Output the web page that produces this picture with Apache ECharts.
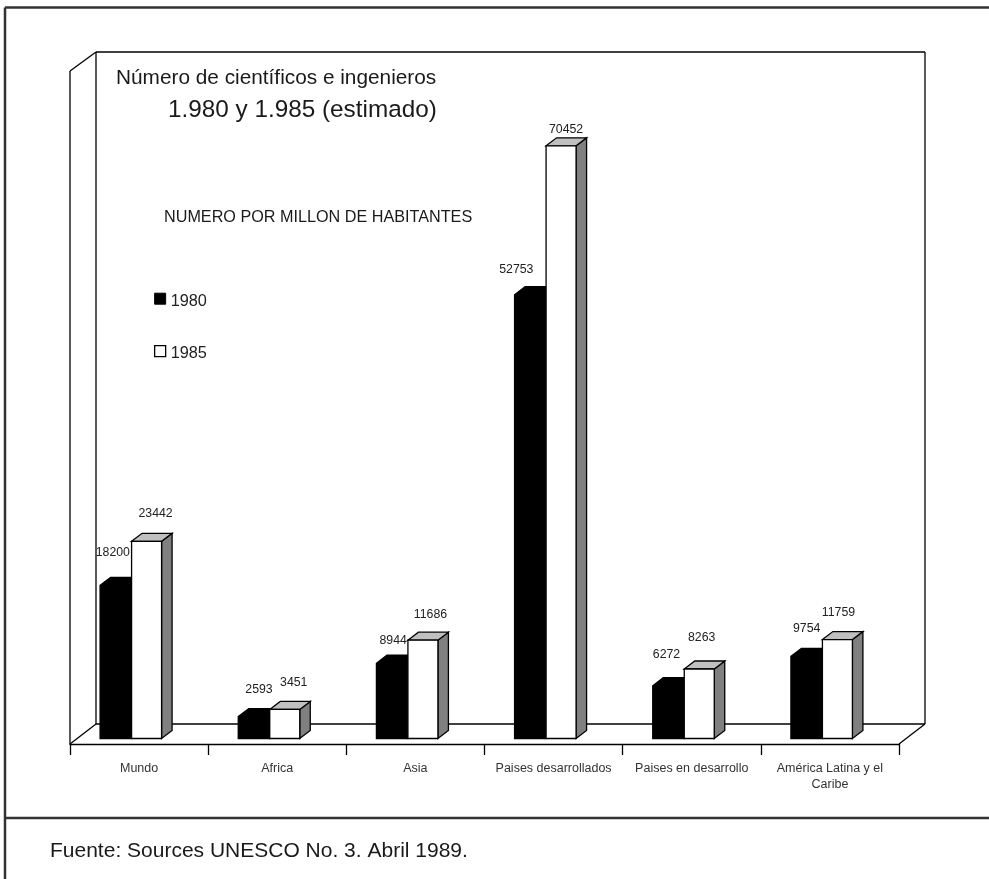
<!DOCTYPE html>
<html><head><meta charset="utf-8">
<style>html,body{margin:0;padding:0;background:#fff}#c{width:989px;height:879px}</style>
<script src="https://cdn.jsdelivr.net/npm/echarts@6/dist/echarts.min.js"></script>
</head><body><div id="c"></div>
<script>
const categories = ['Mundo','Africa','Asia','Paises desarrollados','Paises en desarrollo','América Latina y el\nCaribe'];
const values1980 = [18200,2593,8944,52753,6272,9754];
const values1985 = [23442,3451,11686,70452,8263,11759];
const labelShift1980 = [[-3,-33],[5,-27],[1,-22.6],[-14,-25],[-2,-31],[0,-28]];
const labelShift1985 = [[9,-28],[9,-27],[7.5,-25.5],[5,-16],[2.4,-31.3],[1,-27]];
const FONT = '"Liberation Sans", Arial, sans-serif';
const DX = 10.5, DY = -8, BW = 31;

function bar(kind, values, shifts){
  return function(params, api){
    const i = api.value(0), v = api.value(1);
    const base = api.coord([i,0]), top = api.coord([i,v]);
    const junction = base[0]-7.5;
    const x0 = kind===0 ? junction-BW-0.5 : junction;
    const x1 = kind===0 ? junction : junction+BW-1;
    const y0 = top[1], y1 = base[1];
    const s = shifts[params.dataIndex];
    const stroke = {stroke:'#000',lineWidth:1.3,lineJoin:'miter'};
    const poly = (pts,fill)=>({type:'polygon',shape:{points:pts},style:{fill,...stroke}});
    const children = kind===0 ? [
      poly([[x0,y1],[x0,y0],[x0+DX,y0+DY],[x1+DX,y0+DY],[x1,y0],[x1,y1]],'#000')
    ] : [
      poly([[x1,y1],[x1,y0],[x1+DX,y0+DY],[x1+DX,y1+DY]],'#808080'),
      poly([[x0,y0],[x0+DX,y0+DY],[x1+DX,y0+DY],[x1,y0]],'#c0c0c0'),
      poly([[x0,y0],[x1,y0],[x1,y1],[x0,y1]],'#fff')
    ];
    children.push({type:'text',style:{text:String(v),x:(x0+x1)/2+s[0],y:y0+s[1],
      align:'center',verticalAlign:'middle',font:'12.3px '+FONT,fill:'#222'}});
    return {type:'group',children};
  };
}
const toData = vals => vals.map((v,i)=>[i,v]);

const line = (x1,y1,x2,y2,w,c)=>({type:'line',silent:true,shape:{x1,y1,x2,y2},style:{stroke:c||'#000',lineWidth:w||1.3}});
const txt = (text,x,y,size)=>({type:'text',silent:true,style:{text,x,y,font:size+'px '+FONT,fill:'#1a1a1a',verticalAlign:'middle'}});

const chart = echarts.init(document.getElementById('c'),null,{renderer:'canvas'});
chart.setOption({
  animation:false,
  backgroundColor:'#fff',
  grid:{left:70,width:829,top:65.5,height:673,containLabel:false},
  legend:{
    left:154,top:288,padding:0,orient:'vertical',itemWidth:11,itemHeight:11,itemGap:31,
    selectedMode:false,
    formatter:'{t|{name}}',
    textStyle:{fontFamily:FONT,fontSize:16.3,color:'#222',
      rich:{t:{fontFamily:FONT,fontSize:16.3,color:'#222',lineHeight:16,padding:[5.4,0,0,0]}}},
    data:[
      {name:'1980',icon:'rect',itemStyle:{color:'#000',borderColor:'#000',borderWidth:1}},
      {name:'1985',icon:'rect',itemStyle:{color:'#fff',borderColor:'#000',borderWidth:1.3}}
    ]
  },
  xAxis:{type:'category',data:categories,offset:5.5,
    axisLine:{show:true,onZero:false,lineStyle:{color:'#000',width:1.3}},
    axisTick:{show:true,length:11,lineStyle:{color:'#000',width:1.3}},
    axisLabel:{show:true,interval:0,margin:17,fontFamily:FONT,fontSize:12.5,color:'#333',lineHeight:16}},
  yAxis:{type:'value',min:0,max:80000,interval:20000,show:false},
  graphic:[
    line(5,7.5,989,7.5,2.5,'#333'), line(5,7.5,5,879,2.5,'#333'), line(5,818,989,818,2.5,'#333'),
    line(96,52,925,52), line(96,52,96,724), line(925,52,925,724),
    line(96,724,925,724), line(70,71,96,52), line(70,71,70,744),
    line(70,744,96,724), line(899,744,925,724),
    txt('Número de científicos e ingenieros',116,78,20.8),
    txt('1.980 y 1.985 (estimado)',168,110,24.3),
    txt('NUMERO POR MILLON DE HABITANTES',164,217.5,16.2),
    txt('Fuente: Sources UNESCO No. 3. Abril 1989.',50,851,21)
  ],
  series:[
    {name:'1980',type:'custom',data:toData(values1980),renderItem:bar(0,values1980,labelShift1980),encode:{x:0,y:1},clip:false,z:3,silent:true,itemStyle:{color:'#000'}},
    {name:'1985',type:'custom',data:toData(values1985),renderItem:bar(1,values1985,labelShift1985),encode:{x:0,y:1},clip:false,z:4,silent:true,itemStyle:{color:'#fff'}}
  ]
});
</script></body></html>
